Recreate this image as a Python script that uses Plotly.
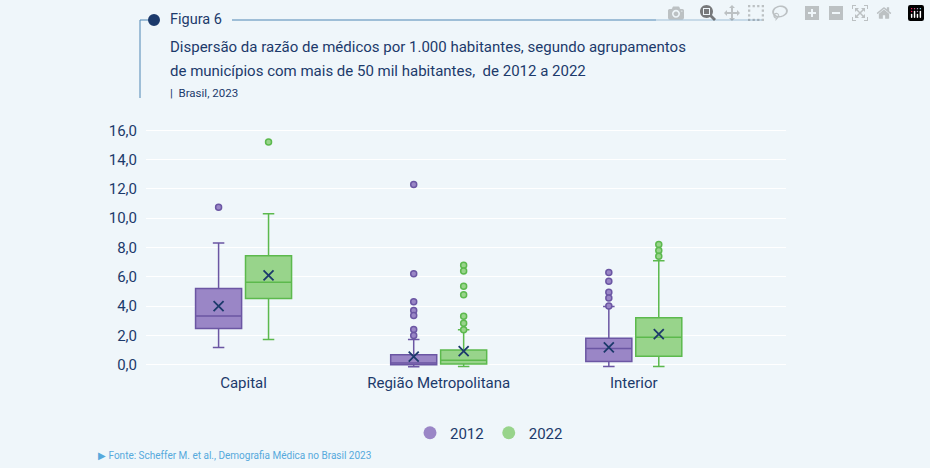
import plotly.graph_objects as go

categories = ["Capital", "Região Metropolitana", "Interior"]
years = ["2012", "2022"]

# box statistics per category
q1 = {"2012": [2.47, 0.0, 0.22], "2022": [4.51, 0.05, 0.57]}
median = {"2012": [3.33, 0.12, 1.1], "2022": [5.62, 0.3, 1.88]}
q3 = {"2012": [5.2, 0.68, 1.8], "2022": [7.44, 1.0, 3.2]}
lower = {"2012": [1.18, -0.15, -0.12], "2022": [1.72, -0.12, -0.12]}
upper = {"2012": [8.3, 1.72, 3.97], "2022": [10.3, 2.38, 7.1]}
mean = {"2012": [4.0, 0.55, 1.18], "2022": [6.1, 0.93, 2.08]}
outliers = {
    "2012": [[10.75], [12.3, 6.2, 4.3, 3.7, 3.35, 2.4, 2.0], [6.3, 5.7, 4.95, 4.55, 4.0]],
    "2022": [[15.2], [6.78, 6.4, 5.35, 4.78, 3.3, 2.83, 2.38], [8.2, 7.8, 7.4]],
}
yticks = [0, 2, 4, 6, 8, 10, 12, 14, 16]

fill = {"2012": "#9a86c6", "2022": "#98d48b"}
edge = {"2012": "#6b56a3", "2022": "#5cb94d"}
offset = {"2012": -0.128, "2022": 0.128}
navy = "#1c3a6b"
W, L, T, H = 640, 146, 123, 249


def px(x):
    return (x - L) / W


def py(y):
    return (T + H - y) / H


fig = go.Figure()
for yr in years:
    xs = [i + offset[yr] for i in range(len(categories))]
    fig.add_trace(go.Box(
        x=xs, q1=q1[yr], median=median[yr], q3=q3[yr],
        lowerfence=lower[yr], upperfence=upper[yr],
        width=0.236, fillcolor=fill[yr], line=dict(color=edge[yr], width=1.5),
        whiskerwidth=0.25, showlegend=False, hoverinfo="skip"))
    ox, oy = [], []
    for i, vals in enumerate(outliers[yr]):
        ox += [xs[i]] * len(vals)
        oy += vals
    fig.add_trace(go.Scatter(
        x=ox, y=oy, mode="markers", showlegend=False,
        marker=dict(size=6, color=fill[yr], line=dict(color=edge[yr], width=1.5))))
    fig.add_trace(go.Scatter(
        x=xs, y=mean[yr], mode="markers", showlegend=False,
        marker=dict(symbol="x-thin", size=10, line=dict(color=navy, width=1.8))))
    fig.add_trace(go.Scatter(
        x=[None], y=[None], mode="markers", name=yr,
        marker=dict(size=13, color=fill[yr])))

font = "Roboto"
fig.update_layout(
    width=930, height=468,
    margin=dict(l=L, r=930 - L - W, t=T, b=468 - T - H),
    paper_bgcolor="#eff6fa", plot_bgcolor="#eff6fa",
    separators=",.",
    font=dict(family=font, color=navy),
    xaxis=dict(range=[-0.5, 2.78], tickvals=list(range(len(categories))),
               ticktext=categories, tickfont=dict(size=15), showgrid=False,
               zeroline=False, ticks=""),
    yaxis=dict(range=[-0.5, 16.5], tickvals=yticks, tickformat=".1f",
               tickfont=dict(size=15), gridcolor="#ffffff", gridwidth=1.2,
               zeroline=False, ticklabelstandoff=8),
    legend=dict(orientation="h", x=px(410), y=py(433), yanchor="middle",
                font=dict(size=15), bgcolor="rgba(0,0,0,0)"),
)

annos = [
    (168, 20, "Figura 6", 14.5),
    (168, 47, "Dispersão da razão de médicos por 1.000 habitantes, segundo agrupamentos", 15),
    (168, 71, "de municípios com mais de 50 mil habitantes,  de 2012 a 2022", 15),
    (168, 93, "|  Brasil, 2023", 11.5),
]
for x, y, t, s in annos:
    fig.add_annotation(x=px(x), y=py(y), xref="paper", yref="paper", text=t,
                       showarrow=False, xanchor="left", yanchor="middle",
                       font=dict(size=s, color=navy))
fig.add_annotation(x=px(96), y=py(455), xref="paper", yref="paper",
                   text="▶ Fonte: Scheffer M. et al., Demografia Médica no Brasil 2023",
                   showarrow=False, xanchor="left", yanchor="middle",
                   font=dict(size=10, color="#56a9dc"))

lc = "#4f86b4"
fig.add_shape(type="line", xref="paper", yref="paper", x0=px(140), x1=px(154),
              y0=py(20), y1=py(20), line=dict(color=lc, width=1))
fig.add_shape(type="line", xref="paper", yref="paper", x0=px(232), x1=px(762),
              y0=py(20), y1=py(20), line=dict(color=lc, width=1))
fig.add_shape(type="line", xref="paper", yref="paper", x0=px(140), x1=px(140),
              y0=py(20), y1=py(98), line=dict(color=lc, width=1))
fig.add_shape(type="circle", xref="paper", yref="paper", x0=px(149), x1=px(159),
              y0=py(15), y1=py(25), fillcolor=navy, line=dict(color=navy))

fig.write_html("out.html", post_script="document.body.style.margin='0';")
